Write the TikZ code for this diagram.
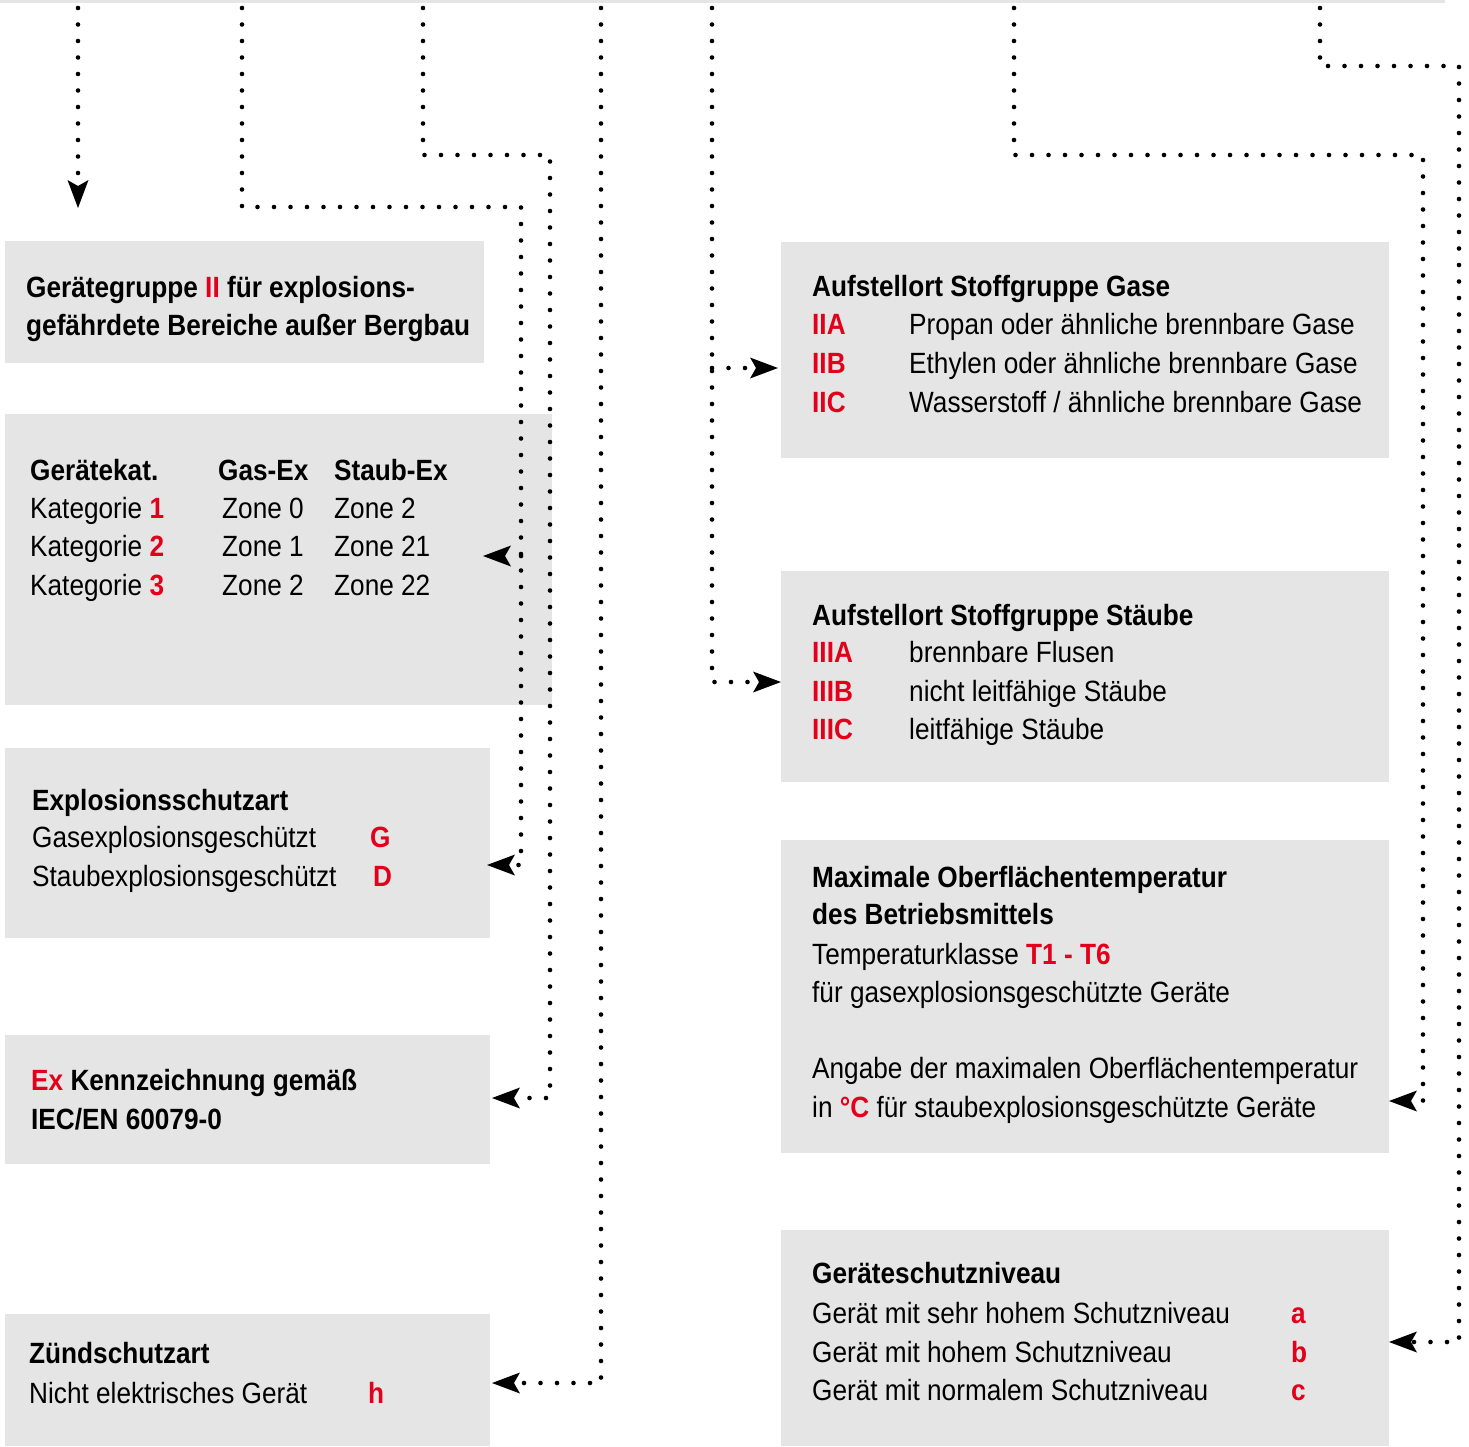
\documentclass[tikz,border=0pt]{standalone}
\usepackage{fontspec}
\setmainfont{Liberation Sans}[FakeStretch=0.894]
\usetikzlibrary{arrows.meta}
\definecolor{exred}{RGB}{226,0,26}
\definecolor{boxgray}{RGB}{229,229,229}
\newcommand{\redb}[1]{\textcolor{exred}{\bfseries #1}}
\tikzset{
  box/.style={anchor=north west, fill=boxgray, draw=none, inner sep=0pt},
  txt/.style={anchor=base west, inner sep=0pt, font=\fontsize{29.3}{35}\selectfont},
  btxt/.style={txt, font=\fontsize{29.3}{35}\selectfont\bfseries},
  rtxt/.style={txt, font=\fontsize{29.3}{35}\selectfont\bfseries, text=exred},
  conn/.style={line width=4.6pt, dash pattern=on 0pt off 16.5pt, line cap=round,
    -{Stealth[length=28pt, width=21pt, inset=6pt, line width=0pt]}}
}
\begin{document}
\begin{tikzpicture}[x=1pt, y=-1pt]
\useasboundingbox (0,0) rectangle (1469,1446);
\fill[boxgray] (0,0) rectangle (1445,3);
% boxes
\node[box, minimum width=479pt, minimum height=122pt] (boxA) at (5,241) {};
\node[box, minimum width=547pt, minimum height=291pt] (boxB) at (5,414) {};
\node[box, minimum width=485pt, minimum height=190pt] (boxC) at (5,748) {};
\node[box, minimum width=485pt, minimum height=129pt] (boxD) at (5,1035) {};
\node[box, minimum width=485pt, minimum height=132pt] (boxE) at (5,1314) {};
\node[box, minimum width=608pt, minimum height=216pt] (boxF) at (781,242) {};
\node[box, minimum width=608pt, minimum height=211pt] (boxG) at (781,571) {};
\node[box, minimum width=608pt, minimum height=313pt] (boxH) at (781,840) {};
\node[box, minimum width=608pt, minimum height=216pt] (boxI) at (781,1230) {};
% texts box A
\node[btxt] (a1) at (26,297) {Gerätegruppe \textcolor{exred}{II} für explosions-};
\node[btxt] (a2) at (26,335) {gefährdete Bereiche außer Bergbau};
% box B
\node[btxt] (b1) at (30,480) {Gerätekat.};
\node[btxt] (b2) at (218,480) {Gas-Ex};
\node[btxt] (b3) at (334,480) {Staub-Ex};
\node[txt] (b4) at (30,518) {Kategorie \redb{1}};
\node[txt] (b5) at (30,556.5) {Kategorie \redb{2}};
\node[txt] (b6) at (30,595) {Kategorie \redb{3}};
\node[txt] (b7) at (222,518) {Zone 0};
\node[txt] (b8) at (222,556.5) {Zone 1};
\node[txt] (b9) at (222,595) {Zone 2};
\node[txt] (b10) at (334,518) {Zone 2};
\node[txt] (b11) at (334,556.5) {Zone 21};
\node[txt] (b12) at (334,595) {Zone 22};
% box C
\node[btxt] (c1) at (32,810) {Explosionsschutzart};
\node[txt] (c2) at (32,847) {Gasexplosionsgeschützt};
\node[txt] (c3) at (32,886) {Staubexplosionsgeschützt};
\node[rtxt] (c4) at (370,847) {G};
\node[rtxt] (c5) at (373,886) {D};
% box D
\node[btxt] (d1) at (31,1090) {\textcolor{exred}{Ex} Kennzeichnung gemäß};
\node[btxt] (d2) at (31,1129) {IEC/EN 60079-0};
% box E
\node[btxt] (e1) at (29,1363) {Zündschutzart};
\node[txt] (e2) at (29,1403) {Nicht elektrisches Gerät};
\node[rtxt] (e3) at (368,1403) {h};
% box F
\node[btxt] (f1) at (812,296) {Aufstellort Stoffgruppe Gase};
\node[rtxt] (f2) at (812,334) {IIA};
\node[rtxt] (f3) at (812,373) {IIB};
\node[rtxt] (f4) at (812,412) {IIC};
\node[txt] (f5) at (909,334) {Propan oder ähnliche brennbare Gase};
\node[txt] (f6) at (909,373) {Ethylen oder ähnliche brennbare Gase};
\node[txt] (f7) at (909,412) {Wasserstoff / ähnliche brennbare Gase};
% box G
\node[btxt] (g1) at (812,625) {Aufstellort Stoffgruppe Stäube};
\node[rtxt] (g2) at (812,662) {IIIA};
\node[rtxt] (g3) at (812,701) {IIIB};
\node[rtxt] (g4) at (812,739) {IIIC};
\node[txt] (g5) at (909,662) {brennbare Flusen};
\node[txt] (g6) at (909,701) {nicht leitfähige Stäube};
\node[txt] (g7) at (909,739) {leitfähige Stäube};
% box H
\node[btxt] (h1) at (812,887) {Maximale Oberflächentemperatur};
\node[btxt] (h2) at (812,924) {des Betriebsmittels};
\node[txt] (h3) at (812,964) {Temperaturklasse \redb{T1 - T6}};
\node[txt] (h4) at (812,1002) {für gasexplosionsgeschützte Geräte};
\node[txt] (h5) at (812,1078) {Angabe der maximalen Oberflächentemperatur};
\node[txt] (h6) at (812,1117) {in \redb{°C} für staubexplosionsgeschützte Geräte};
% box I
\node[btxt] (i1) at (812,1283) {Geräteschutzniveau};
\node[txt] (i2) at (812,1323) {Gerät mit sehr hohem Schutzniveau};
\node[txt] (i3) at (812,1362) {Gerät mit hohem Schutzniveau};
\node[txt] (i4) at (812,1400) {Gerät mit normalem Schutzniveau};
\node[rtxt] (i5) at (1291,1323) {a};
\node[rtxt] (i6) at (1291,1362) {b};
\node[rtxt] (i7) at (1291,1400) {c};
% connector coordinates
\coordinate (s1) at (78,8);   \coordinate (t1) at (78,208);
\coordinate (s2) at (242,8);  \coordinate (k2a) at (242,207); \coordinate (k2b) at (521,207);
\coordinate (k2c) at (521,865); \coordinate (t2) at (487,865);
\coordinate (j2) at (521,556); \coordinate (t2b) at (483,556);
\coordinate (s3) at (423,8);  \coordinate (k3a) at (423,155); \coordinate (k3b) at (550,155);
\coordinate (k3c) at (550,1098); \coordinate (t3) at (492,1098);
\coordinate (s4) at (601,8);  \coordinate (k4) at (601,1383); \coordinate (t4) at (492,1383);
\coordinate (s5) at (712,8);  \coordinate (k5) at (712,682); \coordinate (t5) at (781,682);
\coordinate (j5) at (712,368); \coordinate (t5b) at (778,368);
\coordinate (s6) at (1014,8); \coordinate (k6a) at (1014,155); \coordinate (k6b) at (1423,155);
\coordinate (k6c) at (1423,1101); \coordinate (t6) at (1389,1101);
\coordinate (s7) at (1320,8); \coordinate (k7a) at (1320,66); \coordinate (k7b) at (1459,66);
\coordinate (k7c) at (1459,1342); \coordinate (t7) at (1389,1342);
% connectors
\draw[conn] (s1) -- (t1);
\draw[conn] (s2) -- (k2a) -- (k2b) -- (k2c) -- (t2);
\draw[conn] (j2) -- (t2b);
\draw[conn] (s3) -- (k3a) -- (k3b) -- (k3c) -- (t3);
\draw[conn] (s4) -- (k4) -- (t4);
\draw[conn] (s5) -- (k5) -- (t5);
\draw[conn] (j5) -- (t5b);
\draw[conn] (s6) -- (k6a) -- (k6b) -- (k6c) -- (t6);
\draw[conn] (s7) -- (k7a) -- (k7b) -- (k7c) -- (t7);
\end{tikzpicture}
\end{document}
